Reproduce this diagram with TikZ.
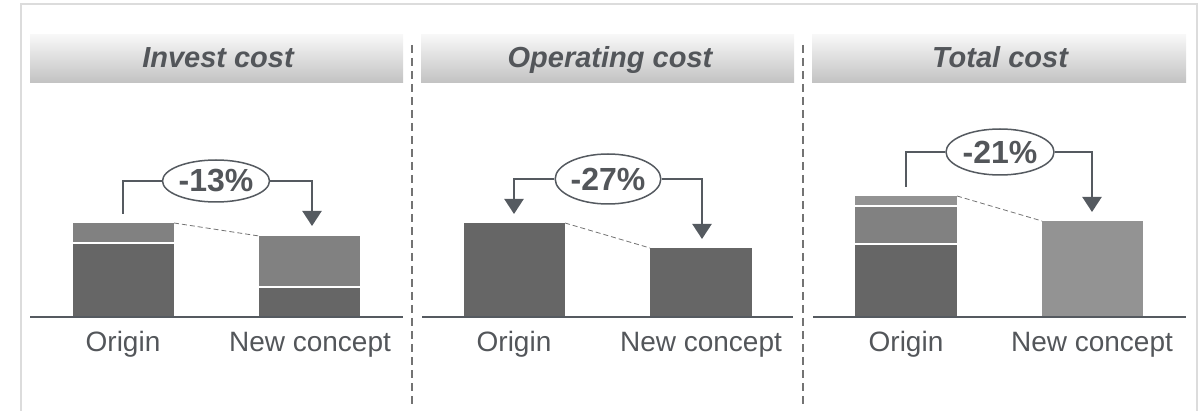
\documentclass[tikz,border=0pt]{standalone}
\usepackage{fontspec}
\setmainfont{Liberation Sans}
\usetikzlibrary{arrows.meta,shapes.geometric}
\definecolor{txt}{HTML}{53565A}
\definecolor{ln}{HTML}{555A60}
\definecolor{dk}{HTML}{666666}
\definecolor{md}{HTML}{818181}
\definecolor{lt}{HTML}{939393}
\definecolor{frm}{HTML}{DCDCDC}
\tikzset{
  hdr/.style={top color=white!97!black, bottom color=black!24},
  hdrtext/.style={anchor=base, font=\fontsize{29}{32}\selectfont\bfseries\itshape, text=txt},
  lbl/.style={anchor=base, font=\fontsize{28}{32}\selectfont, text=txt},
  pct/.style={ellipse, draw=ln, line width=1.5pt, fill=white, inner sep=0pt, font=\fontsize{32}{34}\selectfont\bfseries, text=txt},
  bracket/.style={draw=ln, line width=2.2pt},
  arr/.style={bracket, -{Triangle[length=15pt,width=19pt]}},
  base/.style={draw=ln, line width=2pt},
  slope/.style={draw=black!55, line width=0.8pt, dash pattern=on 5pt off 3pt},
  divider/.style={draw=black!55, line width=1.8pt, dash pattern=on 8pt off 5pt},
  sep/.style={draw=white, line width=2pt}
}
\begin{document}
\begin{tikzpicture}[x=1pt,y=-1pt]
\useasboundingbox (0,0) rectangle (1204,411);
% frame
\draw[frm, line width=2pt] (21,412) -- (21,4) -- (1197,4) -- (1197,412);
% dividers
\draw[divider] (412,45) -- (412,406);
\draw[divider] (803,45) -- (803,406);

% ===== Panel 1 =====
\shade[hdr] (30,35) rectangle (403,83);
\node[hdrtext] (h1) at (218,68) {Invest cost};
\fill[md] (73,223) rectangle (174,317);
\fill[dk] (73,243) rectangle (174,317);
\draw[sep] (73,243) -- (174,243);
\fill[md] (259,236) rectangle (360,317);
\fill[dk] (259,287) rectangle (360,317);
\draw[sep] (259,287) -- (360,287);
\draw[base] (30,317) -- (403,317);
\node[lbl] (o1) at (123,352) {Origin};
\node[lbl] (n1) at (310,352) {New concept};
\coordinate (a1s) at (123,214);
\coordinate (a1e) at (312,226);
\coordinate (d1a) at (174,223);
\coordinate (d1b) at (259,236);
\draw[slope] (d1a) -- (d1b);
\node[pct, minimum width=107pt, minimum height=42pt] (e1) at (216,181) {-13\%};
\draw[bracket] (a1s) |- (e1.west);
\draw[arr] (e1.east) -| (a1e);

% ===== Panel 2 =====
\shade[hdr] (421,35) rectangle (794,83);
\node[hdrtext] (h2) at (610,68) {Operating cost};
\fill[dk] (464,223) rectangle (565,317);
\fill[dk] (650,248) rectangle (752,317);
\draw[base] (422,317) -- (793,317);
\node[lbl] (o2) at (514,352) {Origin};
\node[lbl] (n2) at (701,352) {New concept};
\coordinate (a2s) at (514,214);
\coordinate (a2e) at (702,239);
\coordinate (d2a) at (565,223);
\coordinate (d2b) at (650,248);
\draw[slope] (d2a) -- (d2b);
\node[pct, minimum width=92pt, minimum height=50pt] (e2) at (608,179) {-27\%};
\draw[arr] (e2.west) -| (a2s);
\draw[arr] (e2.east) -| (a2e);

% ===== Panel 3 =====
\shade[hdr] (812,35) rectangle (1186,83);
\node[hdrtext] (h3) at (1000,68) {Total cost};
\fill[lt] (855,196) rectangle (957,317);
\fill[md] (855,206) rectangle (957,317);
\fill[dk] (855,244) rectangle (957,317);
\draw[sep] (855,206) -- (957,206);
\draw[sep] (855,244) -- (957,244);
\fill[lt] (1042,221) rectangle (1143,317);
\draw[base] (813,317) -- (1186,317);
\node[lbl] (o3) at (906,352) {Origin};
\node[lbl] (n3) at (1092,352) {New concept};
\coordinate (a3s) at (906,187);
\coordinate (a3e) at (1092,212);
\coordinate (d3a) at (957,196);
\coordinate (d3b) at (1042,221);
\draw[slope] (d3a) -- (d3b);
\node[pct, minimum width=108pt, minimum height=46pt] (e3) at (1000,152) {-21\%};
\draw[bracket] (a3s) |- (e3.west);
\draw[arr] (e3.east) -| (a3e);
\end{tikzpicture}
\end{document}
